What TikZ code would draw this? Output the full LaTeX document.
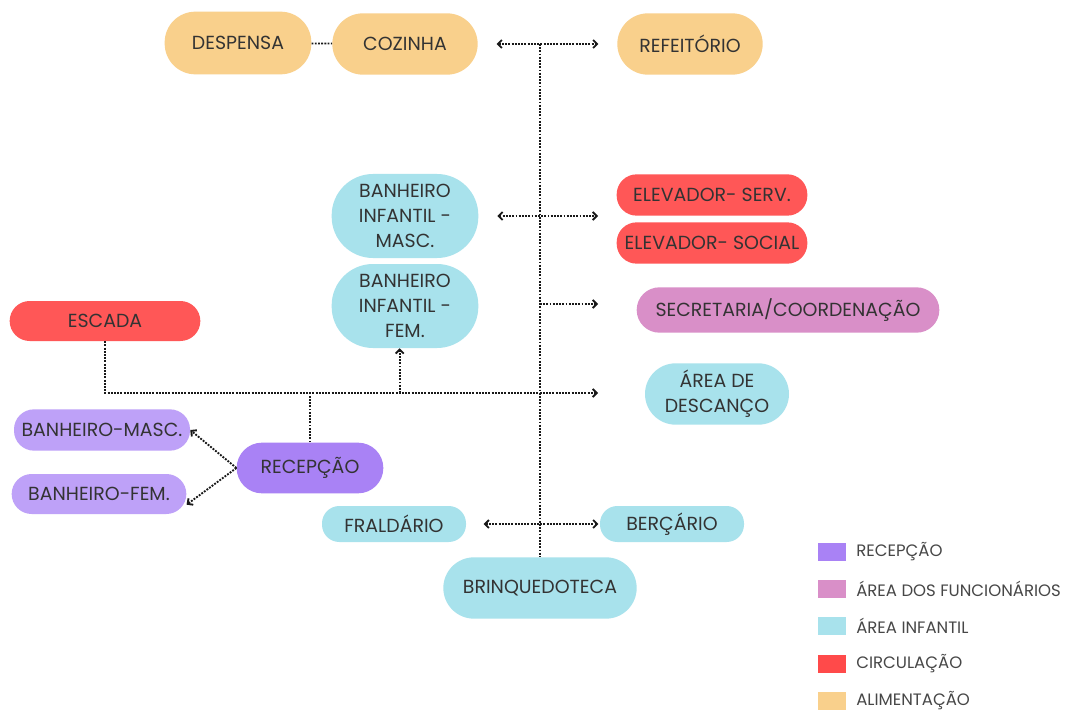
\documentclass[tikz,border=0pt]{standalone}
\usepackage{fontspec}
\setmainfont{Poppins}
\usetikzlibrary{arrows.meta}
\definecolor{alimentacao}{HTML}{F9D08C}
\definecolor{infantil}{HTML}{A8E2EC}
\definecolor{circulacao}{HTML}{FF5757}
\definecolor{recepcao}{HTML}{A982F5}
\definecolor{funcionarios}{HTML}{D98FC8}
\definecolor{texto}{HTML}{333333}
\begin{document}
\begin{tikzpicture}[x=0.75pt, y=-0.75pt,
        sala/.style={align=center, inner sep=0pt, text=texto, font=\fontsize{14.2}{19}\selectfont},
        linha/.style={densely dotted, line width=1.4pt, black!90},
        seta/.style={linha, ->, >={Straight Barb[length=3pt,width=6pt]}},
        quadro/.style={minimum width=21pt, minimum height=13pt, inner sep=0pt},
        legenda/.style={anchor=west, inner sep=0pt, text=texto!90, font=\fontsize{12.4}{14}\selectfont}]
        \useasboundingbox[fill=white] (0,0) rectangle (1067,713);
        % alimentacao
        \node[sala, fill=alimentacao, minimum width=110pt, minimum height=47pt, rounded corners=23pt] (despensa) at (238,43) {DESPENSA};
        \node[sala, fill=alimentacao, minimum width=109pt, minimum height=46pt, rounded corners=23pt] (cozinha) at (405,44) {COZINHA};
        \node[sala, fill=alimentacao, minimum width=109pt, minimum height=46pt, rounded corners=23pt] (refeitorio) at (690,44) {REFEITÓRIO};
        % area infantil
        \node[sala, fill=infantil, minimum width=110pt, minimum height=63pt, rounded corners=31pt] (banheiroM) at (405,216) {BANHEIRO\\ INFANTIL -\\ MASC.};
        \node[sala, fill=infantil, minimum width=110pt, minimum height=63pt, rounded corners=31pt] (banheiroF) at (405,306) {BANHEIRO\\ INFANTIL -\\ FEM.};
        \node[sala, fill=infantil, minimum width=108pt, minimum height=46pt, rounded corners=23pt] (descanso) at (717,394) {ÁREA DE\\ DESCANÇO};
        \node[sala, fill=infantil, minimum width=108pt, minimum height=27pt, rounded corners=13pt] (fraldario) at (394,524) {FRALDÁRIO};
        \node[sala, fill=infantil, minimum width=108pt, minimum height=27pt, rounded corners=13pt] (bercario) at (672,524) {BERÇÁRIO};
        \node[sala, fill=infantil, minimum width=145pt, minimum height=46pt, rounded corners=23pt] (brinquedoteca) at (540,588) {BRINQUEDOTECA};
        % circulacao
        \node[sala, fill=circulacao, minimum width=143pt, minimum height=31pt, rounded corners=15pt] (elevServ) at (712,195) {ELEVADOR- SERV.};
        \node[sala, fill=circulacao, minimum width=143pt, minimum height=31pt, rounded corners=15pt] (elevSocial) at (712,243) {ELEVADOR- SOCIAL};
        \node[sala, fill=circulacao, minimum width=143pt, minimum height=30pt, rounded corners=15pt] (escada) at (105,321) {ESCADA};
        % funcionarios
        \node[sala, fill=funcionarios, minimum width=227pt, minimum height=34pt, rounded corners=17pt] (secretaria) at (788,310) {SECRETARIA/COORDENAÇÃO};
        % recepcao
        \node[sala, fill=recepcao, minimum width=110pt, minimum height=38pt, rounded corners=19pt] (recep) at (310,468) {RECEPÇÃO};
        \node[sala, fill=recepcao!75, minimum width=132pt, minimum height=31pt, rounded corners=15pt] (banheiroMasc) at (102,430) {BANHEIRO-MASC.};
        \node[sala, fill=recepcao!75, minimum width=131pt, minimum height=30pt, rounded corners=15pt] (banheiroFem) at (99,494) {BANHEIRO-FEM.};
        % pontos livres
        \coordinate (tronco) at (540,44);
        \coordinate (elev) at (598,216);
        \coordinate (sec) at (598,304);
        \coordinate (desc) at (598,393);
        % ligacoes
        \draw[linha] (despensa) -- (cozinha);
        \draw[seta, <->, shorten <=14pt, shorten >=14pt] (cozinha) -- (refeitorio);
        \draw[linha] (tronco) -- (brinquedoteca.north);
        \draw[seta, <->, shorten <=14pt] (banheiroM) -- (elev);
        \draw[seta] (tronco |- sec) -- (sec);
        \draw[seta] (escada.south) |- (desc);
        \draw[linha] (recep.north) -- (recep.north |- desc);
        \draw[seta] ([xshift=-4pt]banheiroF.south |- desc) -- ([xshift=-4pt]banheiroF.south);
        \draw[seta] (recep.west) -- (banheiroMasc.east);
        \draw[seta] (recep.west) -- ([yshift=-8pt]banheiroFem.east);
        \draw[seta, <->, shorten <=13pt, shorten >=1pt] (fraldario) -- (bercario);
        % legenda
        \node[quadro, fill=recepcao] (qRecep) at (832,552) {};
        \node[quadro, fill=funcionarios] (qFunc) at (832,589) {};
        \node[quadro, fill=infantil] (qInf) at (832,626) {};
        \node[quadro, fill=circulacao!85!red] (qCirc) at (832,664) {};
        \node[quadro, fill=alimentacao] (qAlim) at (832,701) {};
        \node[legenda] (lRecep) at (856,552) {RECEPÇÃO};
        \node[legenda] (lFunc) at (856,589) {ÁREA DOS FUNCIONÁRIOS};
        \node[legenda] (lInf) at (856,626) {ÁREA INFANTIL};
        \node[legenda] (lCirc) at (856,664) {CIRCULAÇÃO};
        \node[legenda] (lAlim) at (856,701) {ALIMENTAÇÃO};
    \end{tikzpicture}
\end{document}
